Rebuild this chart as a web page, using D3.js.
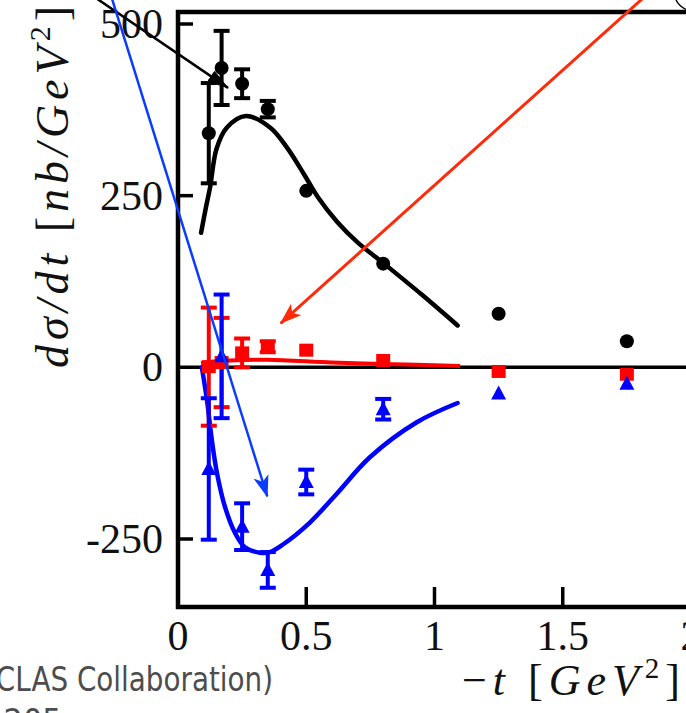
<!DOCTYPE html>
<html><head><meta charset="utf-8">
<script src="https://cdn.jsdelivr.net/npm/d3@7"></script>
<style>html,body{margin:0;padding:0;background:#fff;}svg{display:block;}</style>
</head><body>
<script>
// ---- data ----
const tValues = [0.12, 0.17, 0.25, 0.35, 0.5, 0.8, 1.25, 1.75];
const blackVals = [341, 436, 413, 376, 257, 151, 78, 38];
const blackErr  = [73, 54, 21, 12, 0, 0, 0, 0];
const redVals   = [1, 7, 21, 30, 25, 10, -6, -10];
const redErr    = [86, 65, 21, 8, 0, 0, 0, 0];
const blueVals  = [-148, 16, -232, -295, -167, -61, -38, -24];
const blueErr   = [103, 90, 34, 26, 18, 15, 0, 0];

const blackCurveT = [0.09, 0.11, 0.125, 0.15, 0.19, 0.265, 0.36, 0.425, 0.49, 0.545, 0.62, 0.7, 0.8, 0.95, 1.09];
const blackCurveY = [196, 235, 262, 318, 349, 366, 349, 320, 282, 248, 212, 182, 152, 106, 61];
const redCurveT = [0.09, 0.15, 0.2, 0.35, 0.6, 0.8, 1.1];
const redCurveY = [6, 9, 10, 11, 7, 5, 2];
const blueCurveT = [0.093, 0.113, 0.132, 0.152, 0.183, 0.222, 0.261, 0.319, 0.358, 0.409, 0.514, 0.619, 0.748, 0.931, 1.09];
const blueCurveY = [0, -48, -106, -154, -203, -241, -262, -270, -269, -258, -226, -184, -131, -80, -52];

const xTicks = [0, 0.5, 1, 1.5, 2];
const xTickLabels = ["0", "0.5", "1", "1.5", "2"];
const yTicks = [500, 250, 0, -250];
const yTickLabels = ["500", "250", "0", "-250"];

// annotation arrows: [tail t, tail y, tip t, tip y]
const blackArrow = [-0.36, 548, 0.195, 407];
const blueArrow  = [-0.26, 540, 0.348, -188];
const redArrow   = [1.82, 540, 0.4, 64];

// ---- layout ----
const W = 686, H = 713;
const x = d3.scaleLinear().domain([0, 2]).range([178, 691]);
const y = d3.scaleLinear().domain([-250, 500]).range([539, 24]);
const frameTop = 12, frameBottom = 607, frameLeft = 178;

const svg = d3.select("body").append("svg").attr("width", W).attr("height", H);
const defs = svg.append("defs");
function arrowMarker(id, color, notch) {
  const m = defs.append("marker").attr("id", id).attr("viewBox", "0 0 20 14")
    .attr("refX", 19).attr("refY", 7).attr("markerUnits", "userSpaceOnUse")
    .attr("markerWidth", 22).attr("markerHeight", 16).attr("orient", "auto");
  m.append("path").attr("d", notch ? "M0,0 L20,7 L0,14 L5,7 Z" : "M0,1 L20,7 L0,13 Z").attr("fill", color);
}
arrowMarker("ab", "#000", false);
arrowMarker("abl", "#0a3cff", true);
arrowMarker("ar", "#ff2a0a", true);

const plot = svg.append("g");

// zero line
plot.append("line").attr("x1", frameLeft).attr("x2", W).attr("y1", y(0)).attr("y2", y(0))
  .attr("stroke", "#000").attr("stroke-width", 3.5);

// frame
plot.append("path").attr("d", `M${W+10},${frameTop} H${frameLeft} V${frameBottom} H${W+10}`)
  .attr("fill", "none").attr("stroke", "#000").attr("stroke-width", 4.5);

// ticks
yTicks.forEach(v => {
  if (v === 0) return;
  plot.append("line").attr("x1", frameLeft).attr("x2", frameLeft + 15).attr("y1", y(v)).attr("y2", y(v))
    .attr("stroke", "#000").attr("stroke-width", 3.5);
});
xTicks.forEach(v => {
  if (v === 0) return;
  plot.append("line").attr("x1", x(v)).attr("x2", x(v)).attr("y1", frameBottom).attr("y2", frameBottom - 20)
    .attr("stroke", "#000").attr("stroke-width", 3.5);
});

const serif = "'Liberation Serif','DejaVu Serif',serif";
// tick labels
yTicks.forEach((v, i) => {
  svg.append("text").attr("x", 163).attr("y", y(v) + 14).attr("text-anchor", "end")
    .attr("font-family", serif).attr("font-size", 42).attr("fill", "#111").text(yTickLabels[i]);
});
xTicks.forEach((v, i) => {
  svg.append("text").attr("x", x(v)).attr("y", 650).attr("text-anchor", "middle")
    .attr("font-family", serif).attr("font-size", 42).attr("fill", "#111").text(xTickLabels[i]);
});

// curves
const line = d3.line().x(d => x(d[0])).y(d => y(d[1])).curve(d3.curveCatmullRom.alpha(0.5));
plot.append("path").attr("d", line(d3.zip(blackCurveT, blackCurveY))).attr("fill", "none")
  .attr("stroke", "#000").attr("stroke-width", 4.5).attr("stroke-linecap", "round");
plot.append("path").attr("d", line(d3.zip(redCurveT, redCurveY))).attr("fill", "none")
  .attr("stroke", "#ff0000").attr("stroke-width", 4);
plot.append("path").attr("d", line(d3.zip(blueCurveT, blueCurveY))).attr("fill", "none")
  .attr("stroke", "#0000ff").attr("stroke-width", 4.5).attr("stroke-linecap", "round");

// error bars + markers
function errBars(vals, errs, color) {
  tValues.forEach((t, i) => {
    const e = errs[i];
    if (!e) return;
    const cx = x(t), y1 = y(vals[i] + e), y2 = y(vals[i] - e);
    plot.append("line").attr("x1", cx).attr("x2", cx).attr("y1", y1).attr("y2", y2)
      .attr("stroke", color).attr("stroke-width", 4);
    [y1, y2].forEach(yy => plot.append("line").attr("x1", cx - 8).attr("x2", cx + 8).attr("y1", yy).attr("y2", yy)
      .attr("stroke", color).attr("stroke-width", 4));
  });
}
errBars(redVals, redErr, "#ff0000");
errBars(blueVals, blueErr, "#0000ff");
errBars(blackVals, blackErr, "#000");

tValues.forEach((t, i) => {
  plot.append("rect").attr("x", x(t) - 7).attr("y", y(redVals[i]) - 6.5).attr("width", 14).attr("height", 13)
    .attr("fill", "#ff0000");
});
tValues.forEach((t, i) => {
  const cx = x(t), cy = y(blueVals[i]);
  plot.append("path").attr("d", `M${cx},${cy - 8} L${cx + 7.5},${cy + 6} L${cx - 7.5},${cy + 6} Z`).attr("fill", "#0000ff");
});
tValues.forEach((t, i) => {
  plot.append("circle").attr("cx", x(t)).attr("cy", y(blackVals[i])).attr("r", 7).attr("fill", "#000");
});

// arrows
function arrow(a, color, w, mk) {
  svg.append("line").attr("x1", x(a[0])).attr("y1", y(a[1])).attr("x2", x(a[2])).attr("y2", y(a[3]))
    .attr("stroke", color).attr("stroke-width", w).attr("marker-end", `url(#${mk})`);
}
arrow(blackArrow, "#000", 2.5, "ab");
arrow(blueArrow, "#0a3cff", 2.5, "abl");
arrow(redArrow, "#ff2a0a", 3, "ar");

// small piece of an annotation box at top right
svg.append("path").attr("d", "M676,0 Q680,8 690,11").attr("fill", "none").attr("stroke", "#000").attr("stroke-width", 1.5);

// y axis label
const yl = svg.append("text").attr("transform", "translate(68,368) rotate(-90)")
  .attr("font-family", serif).attr("font-size", 46).attr("fill", "#111")
  .attr("textLength", 362).attr("lengthAdjust", "spacing");
yl.append("tspan").attr("font-style", "italic").text("dσ/dt ");
yl.append("tspan").text("[");
yl.append("tspan").attr("font-style", "italic").text("nb/GeV");
yl.append("tspan").attr("font-size", 30).attr("dy", -18).text("2");
yl.append("tspan").attr("dy", 18).text("]");

// x axis label
const xl = svg.append("text").attr("x", 462).attr("y", 695)
  .attr("font-family", serif).attr("font-size", 44).attr("fill", "#111")
  .attr("textLength", 218).attr("lengthAdjust", "spacing");
xl.append("tspan").text("−");
xl.append("tspan").attr("font-style", "italic").text("t ");
xl.append("tspan").text("[");
xl.append("tspan").attr("font-style", "italic").text("GeV");
xl.append("tspan").attr("font-size", 29).attr("dy", -17).text("2");
xl.append("tspan").attr("dy", 17).text("]");

// cropped caption at bottom left
svg.append("text").attr("x", -15).attr("y", 691).attr("font-family", "'DejaVu Sans Condensed','DejaVu Sans',sans-serif")
  .attr("font-size", 34).attr("fill", "#4d4d4d").attr("textLength", 288).attr("lengthAdjust", "spacingAndGlyphs")
  .text("(CLAS Collaboration)");
svg.append("text").attr("x", -16).attr("y", 733).attr("font-family", "'DejaVu Sans Condensed','DejaVu Sans',sans-serif")
  .attr("font-size", 34).attr("fill", "#4d4d4d").text("5205");
</script>
</body></html>
